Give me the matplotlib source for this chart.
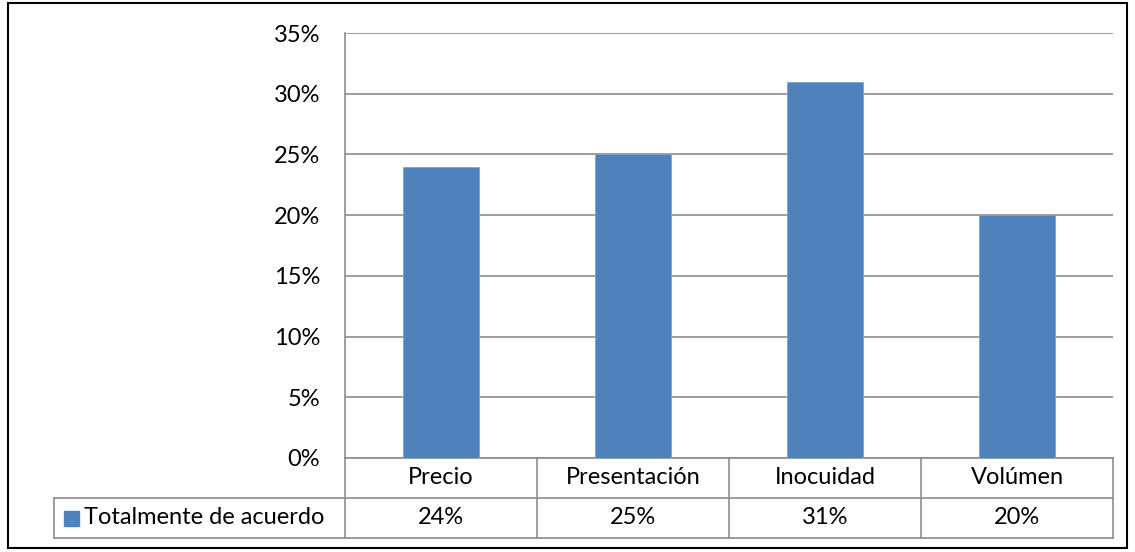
import matplotlib
matplotlib.use("Agg")
import matplotlib.pyplot as plt
from matplotlib.patches import Rectangle
from matplotlib.lines import Line2D
from matplotlib.transforms import blended_transform_factory

categories = ["Precio", "Presentación", "Inocuidad", "Volúmen"]
values = [24, 25, 31, 20]
series_name = "Totalmente de acuerdo"
yticks = [0, 5, 10, 15, 20, 25, 30, 35]

bar_color = "#4F81BD"
grid_color = "#8C8C8C"
fs = 17

plt.rcParams["font.family"] = ["Lato", "DejaVu Sans"]

W, H = 1135, 552
fig = plt.figure(figsize=(W / 100, H / 100), dpi=100)

# outer chart border
fig.add_artist(Rectangle((8 / W, 1 - 548 / H), (1127 - 8) / W, (548 - 3) / H,
                         transform=fig.transFigure, fill=False, edgecolor="black", lw=1.5))

ax = fig.add_axes([345 / W, 1 - 458 / H, (1113 - 345) / W, (458 - 33) / H])
x = list(range(len(categories)))
ax.bar(x, values, width=0.4, color=bar_color, edgecolor="#7FA3D0", linewidth=0.6, zorder=3)
ax.set_xlim(-0.5, len(categories) - 0.5)
ax.set_ylim(0, 35)
ax.set_yticks(yticks)
ax.set_yticklabels([f"{t}%" for t in yticks], fontsize=fs)
ax.tick_params(axis="y", length=0, pad=18)
ax.set_xticks([])
ax.grid(axis="y", color=grid_color, lw=1.2, zorder=0)
for s in ["top", "right", "bottom"]:
    ax.spines[s].set_visible(False)
ax.spines["left"].set_color(grid_color)
ax.spines["left"].set_linewidth(1.2)

# data table below the axis
row_h = 40 / 425
tr = blended_transform_factory(ax.transData, ax.transAxes)
tf = blended_transform_factory(fig.transFigure, ax.transAxes)
left_edge = 54 / W
lw_t = 1.2

# horizontal lines
ax.add_line(Line2D([-0.5, len(categories) - 0.5], [0, 0], transform=tr, color=grid_color, lw=lw_t, clip_on=False))
for yy in [-row_h, -2 * row_h]:
    fig.add_artist(Line2D([left_edge, 1113 / W], [yy, yy], transform=tf, color=grid_color, lw=lw_t))
# vertical lines
for b in [i - 0.5 for i in range(len(categories) + 1)]:
    ax.add_line(Line2D([b, b], [0, -2 * row_h], transform=tr, color=grid_color, lw=lw_t, clip_on=False))
fig.add_artist(Line2D([left_edge, left_edge], [-row_h, -2 * row_h], transform=tf, color=grid_color, lw=lw_t))

for i, (c, v) in enumerate(zip(categories, values)):
    ax.text(i, -row_h / 2, c, transform=tr, ha="center", va="center", fontsize=fs)
    ax.text(i, -1.5 * row_h, f"{v}%", transform=tr, ha="center", va="center", fontsize=fs)

# legend key + series name in the first column
fig.add_artist(Rectangle((64 / W, -1.5 * row_h - 7.5 / 425), 15 / W, 15 / 425, transform=tf,
                         color=bar_color))
fig.text(84 / W, -1.5 * row_h, series_name, transform=tf, fontsize=fs, ha="left", va="center")

fig.savefig("out.png", dpi=100)
